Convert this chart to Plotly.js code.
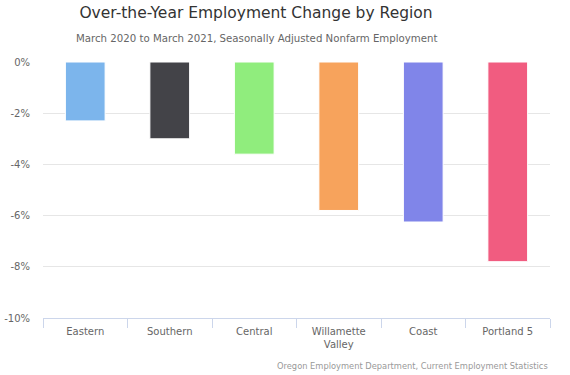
<!DOCTYPE html>
<html>
<head>
<meta charset="utf-8">
<script src="https://cdn.plot.ly/plotly-3.0.1.min.js"></script>
<style>html,body{margin:0;padding:0;background:#fff;}#chart{width:570px;height:375px;}</style>
</head>
<body>
<div id="chart"></div>
<script>
const regions = ["Eastern", "Southern", "Central", "Willamette<br>Valley", "Coast", "Portland 5"];
const changes = [-2.3, -3.0, -3.6, -5.8, -6.25, -7.8];
const colors = ["#7cb5ec", "#434348", "#90ed7d", "#f7a35c", "#8085e9", "#f15c80"];
const yTicks = [0, -2, -4, -6, -8, -10];
const yTickText = ["0%", "-2%", "-4%", "-6%", "-8%", "-10%"];

const font = "DejaVu Sans, Verdana, sans-serif";

Plotly.newPlot("chart", [{
  type: "bar",
  x: regions,
  y: changes,
  marker: { color: colors, line: { color: "#ffffff", width: 1 } },
  hoverinfo: "none"
}], {
  width: 570, height: 375,
  margin: { l: 43, r: 20, t: 62, b: 57 },
  paper_bgcolor: "#fff", plot_bgcolor: "#fff",
  bargap: 0.53,
  showlegend: false,
  font: { family: font, color: "#666666", size: 11 },
  title: {
    text: "Over-the-Year Employment Change by Region",
    font: { family: font, size: 15.5, color: "#333333" },
    x: 256 / 570, xref: "container", xanchor: "center",
    y: 1 - 13 / 375, yref: "container", yanchor: "middle"
  },
  xaxis: {
    type: "category",
    showline: true, linecolor: "#ccd6eb", linewidth: 1,
    ticks: "outside", tickson: "boundaries", ticklen: 9, tickcolor: "#ccd6eb",
    tickfont: { family: font, size: 10, color: "#666666" },
    ticklabelstandoff: 4,
    showgrid: false, zeroline: false, fixedrange: true
  },
  yaxis: {
    range: [-10, 0],
    tickvals: yTicks, ticktext: yTickText,
    tickfont: { family: font, size: 10, color: "#666666" },
    showgrid: true, gridcolor: "#e6e6e6", gridwidth: 1,
    zeroline: false, showline: false, ticks: "", ticklabelstandoff: 12,
    fixedrange: true
  },
  annotations: [
    {
      text: "March 2020 to March 2021, Seasonally Adjusted Nonfarm Employment",
      xref: "paper", yref: "paper", x: (256 - 43) / 507, xanchor: "center",
      y: 1 + (62 - 38) / 256, yanchor: "middle", showarrow: false,
      font: { family: font, size: 10.2, color: "#666666" }
    },
    {
      text: "Oregon Employment Department, Current Employment Statistics",
      xref: "paper", yref: "paper", x: 1, xanchor: "right",
      y: -(366 - 318) / 256, yanchor: "middle", showarrow: false,
      font: { family: font, size: 8.3, color: "#999999" }
    }
  ]
}, { displayModeBar: false, staticPlot: true });
</script>
</body>
</html>
